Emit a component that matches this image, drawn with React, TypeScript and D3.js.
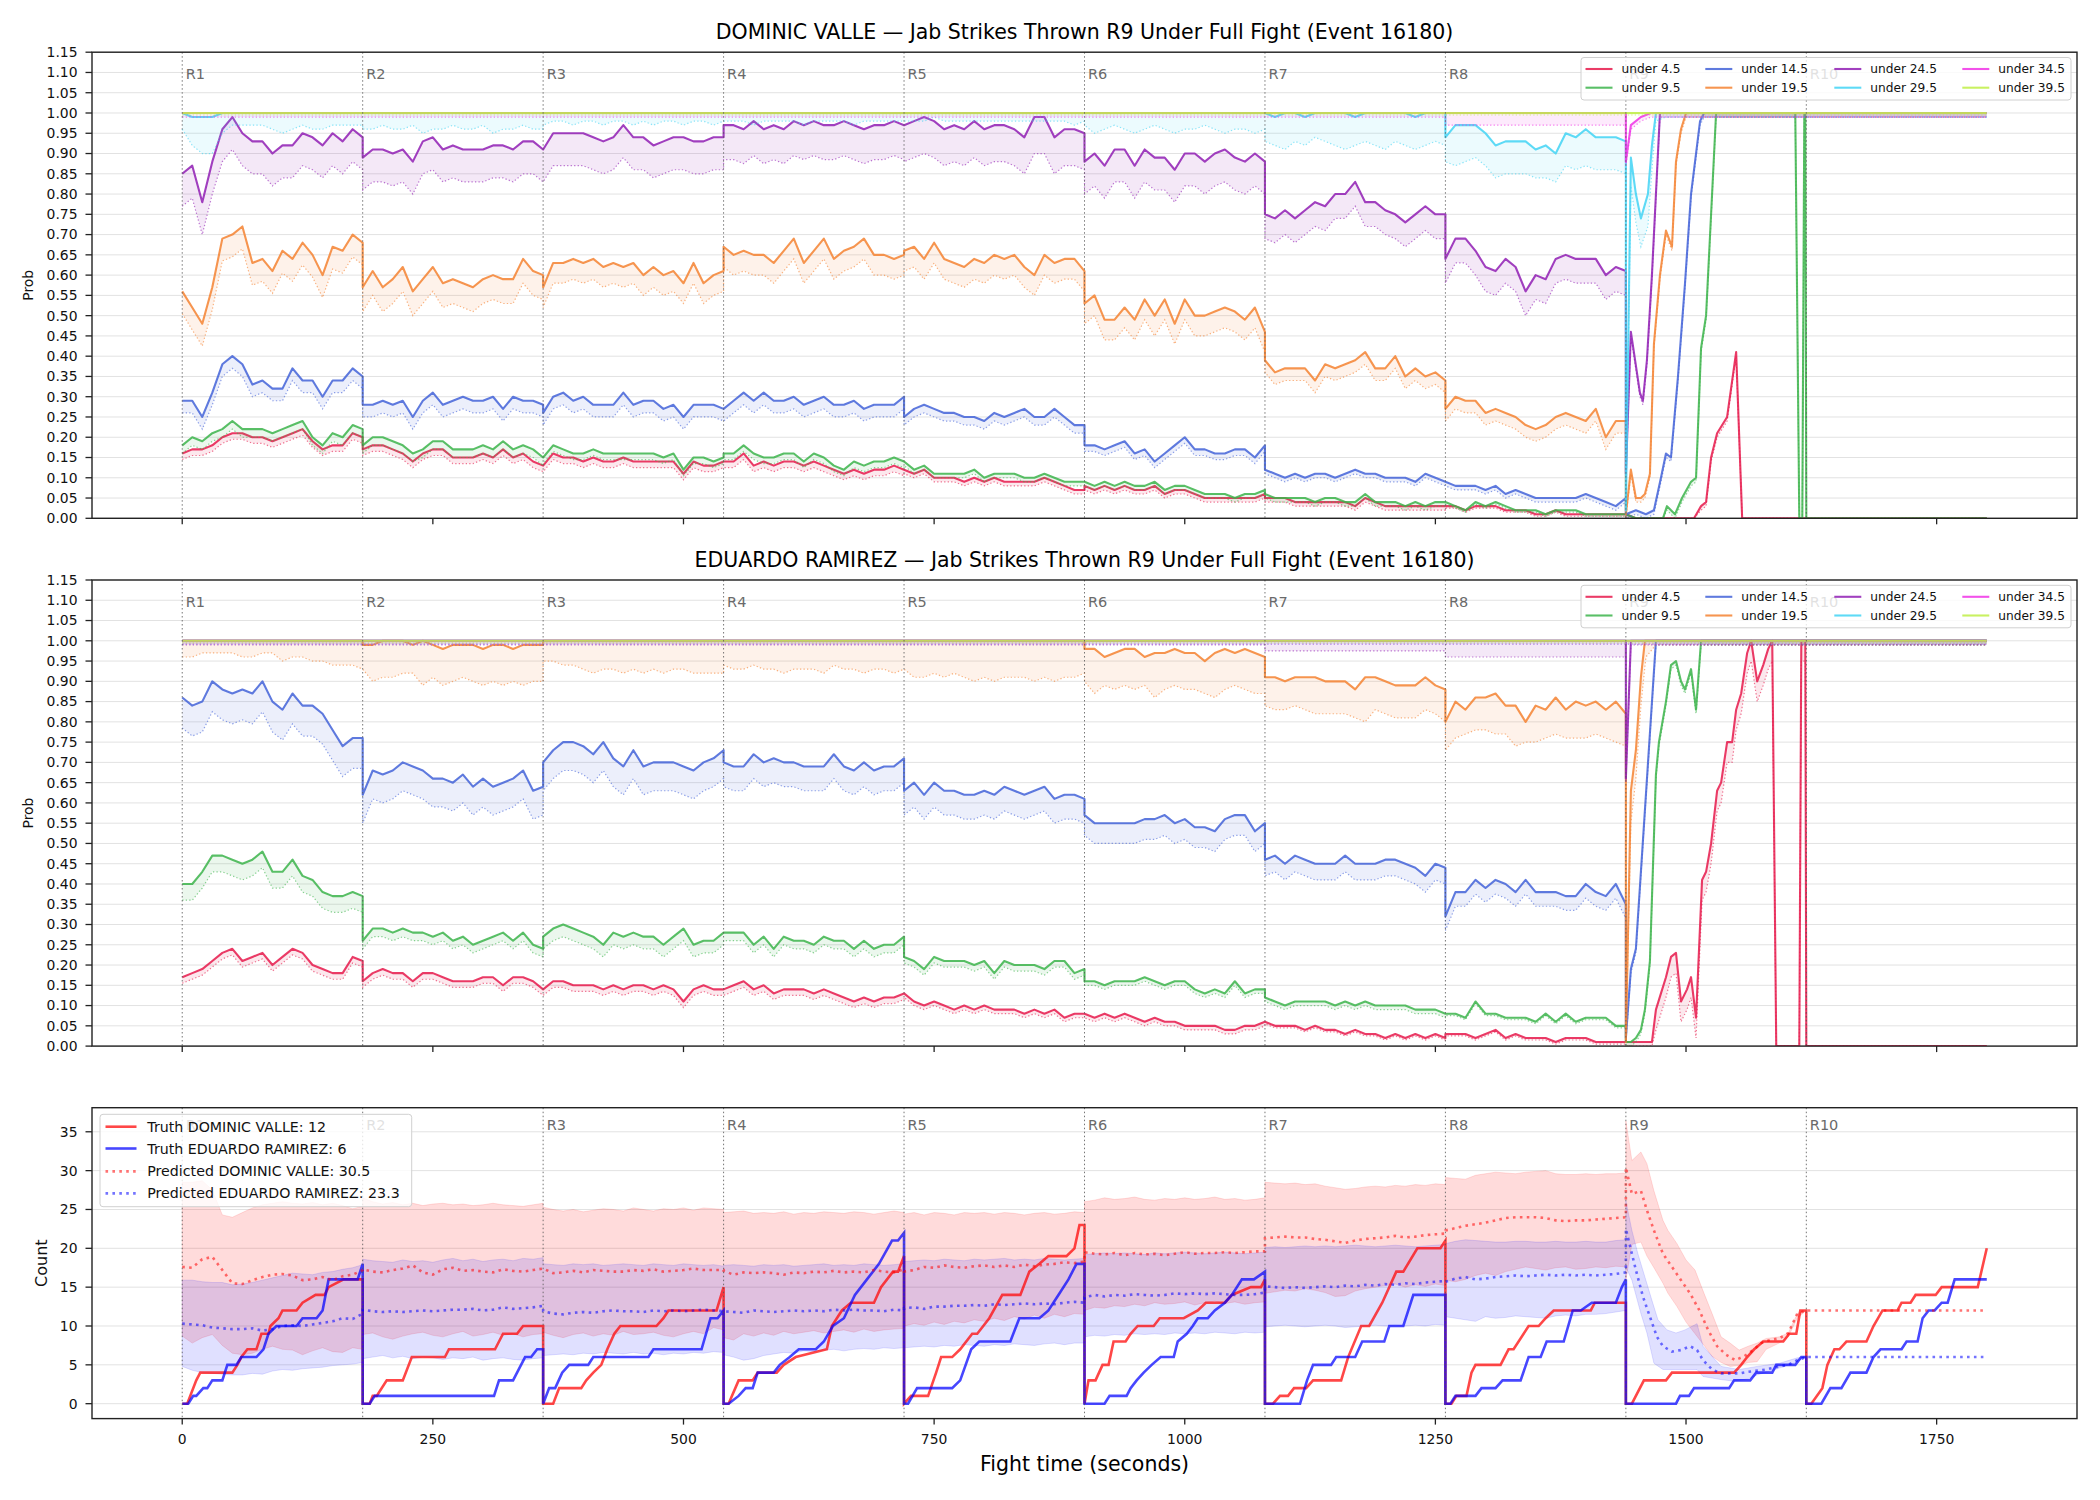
import React from 'react';
import * as d3 from 'd3';

type Pt = [number, number];

// ---------------- data ----------------
const ROUND_NAMES = ['R1', 'R2', 'R3', 'R4', 'R5', 'R6', 'R7', 'R8', 'R9', 'R10'];
const ROUND_STARTS = [0, 180, 360, 540, 720, 900, 1080, 1260, 1440, 1620];
const ROUND_LENGTH = 180;
const X_TICKS = [0, 250, 500, 750, 1000, 1250, 1500, 1750];
const PROB_TICKS = [0, 0.05, 0.1, 0.15, 0.2, 0.25, 0.3, 0.35, 0.4, 0.45, 0.5, 0.55, 0.6, 0.65, 0.7, 0.75, 0.8, 0.85, 0.9, 0.95, 1.0, 1.05, 1.1, 1.15];
const COUNT_TICKS = [0, 5, 10, 15, 20, 25, 30, 35];

const LINE_LABELS = ['under 4.5', 'under 9.5', 'under 14.5', 'under 19.5', 'under 24.5', 'under 29.5', 'under 34.5', 'under 39.5'];

// P(under) in %, one row per round R1..R8, samples evenly spread over the round
// gaps: distance of the dotted lower line per round (R1..R8, then R9+ tail)

// DOMINIC VALLE
const valleU4_5 = [
  [16, 17, 17, 18, 20, 21, 21, 20, 20, 19, 20, 21, 22, 19, 17, 18, 18, 21, 20],
  [17, 18, 18, 17, 16, 14, 16, 17, 17, 15, 15, 15, 16, 15, 17, 15, 16, 14, 13],
  [13, 16, 15, 15, 14, 15, 14, 14, 15, 14, 14, 14, 14, 14, 11, 14, 13, 13, 14],
  [14, 14, 16, 13, 14, 13, 14, 14, 13, 14, 13, 12, 11, 12, 11, 12, 12, 13, 12],
  [12, 11, 12, 10, 10, 10, 9, 10, 9, 10, 9, 9, 9, 9, 10, 9, 8, 7, 7],
  [8, 7, 8, 7, 8, 7, 7, 8, 6, 7, 7, 6, 5, 5, 5, 5, 5, 5, 6],
  [5, 5, 5, 4, 4, 4, 4, 4, 4, 3, 5, 4, 3, 3, 3, 3, 3, 3, 3],
  [3, 3, 2, 3, 3, 3, 2, 2, 2, 1, 1, 2, 1, 1, 1, 1, 1, 1, 1],
];
const valleU4_5Tail: Pt[] = [[1440, 1], [1450, 0], [1508, 0], [1515, 3], [1520, 4], [1525, 15], [1531, 21], [1541, 25], [1550, 41], [1556, 0], [1800, 0]];
const valleU4_5Gap = [1.5, 1.5, 1.5, 1.5, 1, 1, 1, 0.5, 1];

const valleU9_5 = [
  [18, 20, 19, 21, 22, 24, 22, 22, 22, 21, 22, 23, 24, 20, 18, 21, 20, 23, 22],
  [18, 20, 20, 19, 18, 16, 17, 19, 19, 17, 17, 17, 18, 17, 19, 17, 18, 17, 15],
  [15, 18, 17, 16, 16, 17, 16, 16, 16, 16, 16, 16, 15, 16, 12, 15, 15, 14, 15],
  [16, 16, 18, 16, 15, 15, 16, 16, 14, 16, 15, 13, 12, 14, 13, 14, 14, 15, 14],
  [14, 12, 13, 11, 11, 11, 11, 12, 10, 11, 11, 11, 10, 10, 11, 10, 9, 9, 9],
  [9, 8, 9, 8, 9, 8, 8, 9, 7, 8, 8, 7, 6, 6, 6, 5, 6, 6, 7],
  [6, 5, 5, 5, 5, 4, 5, 5, 4, 4, 6, 4, 4, 4, 3, 4, 3, 4, 4],
  [4, 3, 2, 4, 3, 4, 3, 2, 2, 2, 1, 2, 2, 2, 1, 1, 1, 1, 1],
];
const valleU9_5Tail: Pt[] = [[1440, 1], [1450, 0], [1477, 0], [1481, 3], [1489, 1], [1496, 5], [1505, 9], [1510, 10], [1515, 42], [1520, 50], [1530, 100], [1609, 100], [1613, 0], [1616, 0], [1618, 100], [1619, 100], [1620, 0], [1800, 0]];
const valleU9_5Gap = [2, 2, 1.5, 1.5, 1, 1, 1, 0.5, 1];

const valleU14_5 = [
  [29, 29, 25, 31, 38, 40, 38, 33, 34, 32, 32, 37, 34, 34, 30, 34, 34, 37, 35],
  [28, 28, 29, 28, 29, 25, 29, 31, 28, 29, 30, 29, 29, 30, 27, 30, 29, 29, 28],
  [26, 30, 31, 29, 30, 28, 28, 28, 31, 28, 29, 29, 27, 28, 25, 28, 28, 28, 27],
  [27, 29, 31, 29, 31, 29, 29, 30, 28, 29, 30, 28, 28, 29, 27, 28, 28, 28, 30],
  [25, 27, 28, 27, 26, 26, 25, 25, 24, 26, 25, 26, 27, 25, 25, 27, 25, 23, 23],
  [18, 18, 17, 18, 19, 16, 17, 14, 16, 18, 20, 17, 17, 16, 16, 17, 17, 15, 18],
  [12, 11, 10, 11, 10, 11, 11, 10, 11, 12, 11, 11, 10, 10, 10, 9, 11, 10, 9],
  [9, 8, 8, 8, 7, 8, 6, 7, 6, 5, 5, 5, 5, 5, 6, 5, 4, 3, 5],
];
const valleU14_5Tail: Pt[] = [[1440, 1], [1450, 2], [1460, 1], [1468, 2], [1475, 10], [1480, 16], [1485, 15], [1492, 35], [1499, 58], [1505, 80], [1514, 98], [1518, 100], [1800, 100]];
const valleU14_5Gap = [3, 3, 3, 3, 2, 1.5, 1, 1, 1];

const valleU19_5 = [
  [56, 52, 48, 57, 69, 70, 72, 63, 64, 61, 66, 64, 68, 65, 60, 67, 66, 70, 68],
  [57, 61, 57, 59, 62, 56, 59, 62, 58, 59, 58, 57, 59, 60, 59, 59, 64, 61, 60],
  [57, 63, 63, 64, 63, 64, 62, 63, 62, 63, 60, 62, 60, 61, 58, 63, 58, 60, 61],
  [67, 65, 66, 65, 65, 63, 66, 69, 63, 66, 69, 64, 66, 67, 69, 65, 65, 64, 65],
  [66, 67, 64, 68, 64, 63, 62, 64, 63, 65, 64, 65, 62, 60, 65, 63, 64, 64, 61],
  [53, 55, 49, 49, 52, 49, 54, 50, 54, 48, 54, 50, 50, 51, 52, 51, 49, 52, 46],
  [39, 36, 37, 37, 37, 34, 38, 37, 38, 39, 41, 37, 37, 40, 35, 37, 35, 36, 34],
  [27, 30, 29, 29, 26, 27, 26, 25, 23, 22, 23, 25, 26, 25, 24, 27, 20, 24, 24],
];
const valleU19_5Tail: Pt[] = [[1440, 1], [1445, 12], [1450, 5], [1455, 5], [1459, 6], [1464, 11], [1468, 43], [1474, 60], [1480, 71], [1486, 67], [1490, 88], [1495, 96], [1500, 100], [1800, 100]];
const valleU19_5Gap = [5.5, 6, 5, 5, 5, 5, 3, 3, 1];

const valleU24_5 = [
  [85, 87, 78, 88, 96, 99, 95, 93, 93, 90, 92, 92, 95, 94, 92, 95, 93, 96, 94],
  [89, 91, 91, 90, 91, 88, 93, 94, 91, 92, 91, 91, 91, 92, 92, 91, 93, 93, 91],
  [91, 95, 95, 95, 95, 94, 93, 94, 97, 94, 94, 92, 93, 94, 94, 93, 93, 94, 94],
  [97, 97, 96, 98, 96, 97, 96, 98, 97, 98, 97, 97, 98, 97, 96, 97, 97, 98, 97],
  [97, 98, 99, 98, 96, 97, 96, 98, 96, 97, 97, 96, 94, 99, 99, 94, 96, 96, 95],
  [88, 90, 87, 91, 91, 87, 91, 89, 89, 86, 90, 90, 88, 90, 91, 89, 88, 90, 88],
  [75, 74, 76, 74, 76, 78, 77, 80, 80, 83, 78, 78, 76, 75, 73, 75, 77, 75, 75],
  [64, 69, 69, 66, 62, 61, 64, 62, 56, 60, 59, 64, 65, 64, 64, 64, 60, 62, 61],
];
const valleU24_5Tail: Pt[] = [[1440, 11], [1445, 46], [1454, 31], [1457, 29], [1461, 39], [1466, 60], [1470, 80], [1474, 100], [1800, 100]];
const valleU24_5Gap = [8, 8, 8, 8.5, 9, 8, 6, 6, 1];

const valleU29_5 = [
  [100, 99, 99, 99, 100, 100, 100, 100, 100, 100, 100, 100, 100, 100, 100, 100, 100, 100, 100],
  [100, 100], [100, 100], [100, 100], [100, 100], [100, 100],
  [100, 99, 100, 100, 99, 100, 100, 100, 100, 99, 100, 100, 100, 100, 100, 99, 100, 100, 100],
  [94, 97, 97, 97, 95, 92, 93, 93, 93, 91, 92, 90, 95, 94, 96, 94, 94, 94, 93],
];
const valleU29_5Tail: Pt[] = [[1440, 2], [1445, 89], [1450, 80], [1455, 74], [1462, 80], [1466, 92], [1470, 100], [1800, 100]];
const valleU29_5Low = [
  [96, 92, 90, 90, 95, 97, 97, 97, 97, 96, 95, 96, 97, 96, 96, 97, 97, 97, 97],
  [96, 96, 97, 96, 96, 97, 95, 96, 96, 97, 96, 96, 97, 95, 96, 96, 97, 96, 96],
  [97, 98, 98, 97, 98, 98, 97, 98, 98, 97, 98, 97, 98, 98, 97, 98, 98, 97, 98],
  [98, 98, 98, 97, 98, 98, 98, 98, 97, 98, 98, 98, 98, 97, 98, 98, 98, 98, 98],
  [98, 98, 98, 99, 98, 98, 98, 98, 98, 98, 98, 98, 98, 98, 98, 98, 98, 97, 98],
  [97, 95, 96, 97, 96, 95, 96, 97, 96, 95, 96, 96, 97, 96, 95, 96, 96, 95, 96],
  [93, 92, 91, 93, 92, 94, 93, 92, 91, 92, 93, 92, 91, 93, 92, 91, 92, 93, 92],
  [88, 87, 88, 89, 87, 84, 85, 85, 85, 84, 84, 83, 87, 86, 87, 86, 86, 86, 85],
];
const valleU29_5LowTail: Pt[] = [[1440, 1], [1445, 82], [1450, 73], [1455, 67], [1462, 72], [1466, 86], [1470, 98], [1480, 99], [1800, 99]];

const valleU34_5 = [[100, 100], [100, 100], [100, 100], [100, 100], [100, 100], [100, 100], [100, 100], [100, 100]];
const valleU34_5Tail: Pt[] = [[1440, 88], [1445, 97], [1455, 99], [1465, 100], [1800, 100]];
const valleU34_5Gap = [1, 1, 1, 1, 1, 1, 1, 3, 1];

const valleU39_5 = [[100, 100], [100, 100], [100, 100], [100, 100], [100, 100], [100, 100], [100, 100], [100, 100]];
const valleU39_5Tail: Pt[] = [[1440, 100], [1800, 100]];
const valleU39_5Gap = [0.5, 0.5, 0.5, 0.5, 0.5, 0.5, 0.5, 0.5, 0.5];

// EDUARDO RAMIREZ
const ramirezU4_5 = [
  [17, 18, 19, 21, 23, 24, 21, 22, 23, 20, 22, 24, 23, 20, 19, 18, 18, 22, 21],
  [16, 18, 19, 18, 18, 16, 18, 18, 17, 16, 16, 16, 17, 17, 15, 17, 17, 16, 14],
  [14, 16, 16, 15, 15, 15, 14, 15, 14, 15, 15, 14, 15, 14, 11, 14, 15, 14, 14],
  [14, 15, 16, 14, 15, 13, 14, 14, 14, 13, 14, 13, 12, 11, 12, 11, 12, 12, 13],
  [13, 11, 10, 11, 10, 9, 10, 9, 10, 9, 9, 9, 8, 9, 8, 9, 7, 8, 8],
  [8, 7, 8, 7, 8, 7, 6, 7, 6, 6, 5, 5, 5, 5, 4, 4, 5, 5, 6],
  [6, 5, 5, 5, 4, 5, 4, 4, 3, 4, 3, 3, 2, 3, 2, 3, 2, 3, 2],
  [3, 3, 3, 2, 3, 4, 2, 3, 2, 2, 2, 1, 2, 2, 2, 1, 1, 1, 1],
];
const ramirezU4_5Tail: Pt[] = [[1440, 1], [1466, 1], [1470, 9], [1475, 13], [1480, 17], [1485, 22], [1490, 23], [1495, 11], [1501, 14], [1505, 17], [1510, 7], [1516, 41], [1520, 43], [1525, 50], [1531, 63], [1535, 65], [1541, 75], [1546, 75], [1550, 83], [1555, 87], [1561, 97], [1565, 100], [1571, 90], [1577, 94], [1582, 98], [1586, 100], [1590, 0], [1613, 0], [1615, 100], [1619, 100], [1620, 0], [1800, 0]];
const ramirezU4_5Gap = [1.5, 1.5, 1.5, 1.5, 1, 1, 0.5, 0.5, 5];

const ramirezU9_5 = [
  [40, 40, 43, 47, 47, 46, 45, 46, 48, 43, 43, 46, 42, 41, 38, 37, 37, 38, 37],
  [26, 29, 29, 28, 29, 28, 28, 27, 28, 26, 27, 25, 26, 27, 28, 26, 28, 25, 24],
  [27, 29, 30, 29, 28, 27, 25, 28, 27, 28, 27, 27, 25, 27, 29, 25, 26, 26, 28],
  [28, 28, 28, 25, 27, 24, 27, 26, 26, 25, 27, 26, 26, 24, 26, 24, 25, 25, 27],
  [22, 21, 19, 22, 21, 21, 21, 20, 21, 18, 21, 20, 20, 20, 19, 21, 21, 18, 19],
  [16, 16, 15, 16, 16, 16, 17, 16, 15, 16, 16, 14, 13, 14, 13, 16, 13, 14, 14],
  [12, 11, 10, 11, 11, 11, 11, 10, 11, 10, 11, 10, 10, 10, 10, 9, 9, 9, 8],
  [8, 8, 7, 11, 8, 8, 7, 7, 7, 6, 8, 6, 8, 6, 7, 7, 7, 5, 5],
];
const ramirezU9_5Tail: Pt[] = [[1440, 1], [1445, 1], [1450, 2], [1455, 4], [1459, 9], [1464, 21], [1470, 67], [1473, 75], [1480, 85], [1485, 94], [1490, 95], [1495, 90], [1499, 88], [1505, 93], [1510, 83], [1515, 100], [1800, 100]];
const ramirezU9_5Gap = [4, 2, 3, 2, 1.5, 1, 1, 0.5, 1];

const ramirezU14_5 = [
  [86, 84, 85, 90, 88, 87, 88, 87, 90, 85, 83, 87, 84, 84, 82, 78, 74, 76, 76],
  [62, 68, 67, 68, 70, 69, 68, 66, 66, 65, 67, 64, 66, 64, 65, 66, 68, 63, 64],
  [70, 73, 75, 75, 74, 72, 75, 71, 69, 73, 69, 70, 70, 70, 69, 68, 70, 71, 73],
  [70, 69, 69, 72, 70, 71, 70, 70, 69, 69, 69, 72, 69, 68, 70, 68, 69, 69, 71],
  [63, 65, 62, 65, 63, 63, 62, 62, 63, 62, 64, 63, 62, 63, 64, 61, 62, 62, 61],
  [57, 55, 55, 55, 55, 55, 56, 56, 57, 55, 56, 54, 54, 53, 56, 57, 57, 53, 55],
  [46, 47, 45, 47, 46, 45, 45, 45, 47, 45, 45, 45, 46, 46, 45, 44, 42, 45, 44],
  [32, 38, 38, 41, 39, 41, 40, 38, 41, 38, 38, 38, 37, 37, 40, 38, 37, 40, 35],
];
const ramirezU14_5Tail: Pt[] = [[1440, 2], [1445, 19], [1450, 24], [1470, 100], [1800, 100]];
const ramirezU14_5Gap = [7.5, 7, 7, 6, 6, 5, 4, 3.5, 1];

const ramirezU19_5 = [
  [100, 100],
  [99, 99, 100, 100, 100, 99, 100, 99, 98, 99, 99, 99, 98, 99, 99, 98, 99, 99, 99],
  [100, 100], [100, 100], [100, 100],
  [98, 98, 96, 97, 98, 98, 96, 97, 97, 98, 97, 97, 95, 97, 98, 97, 98, 97, 96],
  [91, 91, 90, 91, 91, 91, 90, 90, 90, 88, 91, 91, 90, 89, 89, 89, 91, 89, 88],
  [80, 85, 83, 86, 86, 87, 84, 84, 80, 84, 83, 86, 83, 85, 84, 85, 83, 85, 82],
];
const ramirezU19_5Tail: Pt[] = [[1440, 1], [1445, 63], [1450, 73], [1455, 91], [1459, 100], [1800, 100]];
const ramirezU19_5Low = [
  [96, 96, 97, 97, 97, 97, 96, 96, 97, 97, 95, 96, 96, 95, 95, 94, 94, 94, 93],
  [93, 90, 91, 91, 92, 92, 89, 91, 89, 90, 91, 90, 89, 90, 89, 90, 89, 90, 90],
  [95, 95, 94, 94, 93, 92, 93, 93, 92, 93, 92, 93, 92, 93, 93, 92, 92, 92, 92],
  [94, 93, 93, 94, 93, 93, 92, 93, 93, 93, 92, 94, 93, 93, 92, 93, 93, 92, 93],
  [93, 91, 91, 92, 91, 92, 91, 90, 91, 90, 91, 91, 91, 90, 91, 90, 91, 91, 92],
  [90, 87, 89, 88, 89, 88, 89, 86, 88, 89, 88, 88, 87, 86, 88, 89, 88, 87, 87],
  [84, 83, 83, 84, 83, 82, 82, 82, 82, 81, 80, 83, 82, 81, 81, 81, 83, 82, 80],
  [73, 76, 77, 78, 78, 77, 77, 74, 75, 75, 76, 77, 76, 76, 76, 77, 76, 75, 74],
];
const ramirezU19_5LowTail: Pt[] = [[1440, 1], [1445, 55], [1450, 66], [1455, 84], [1460, 96], [1470, 99], [1800, 99]];

const ramirezU24_5 = [[100, 100], [100, 100], [100, 100], [100, 100], [100, 100], [100, 100], [100, 100], [100, 100]];
const ramirezU24_5Tail: Pt[] = [[1440, 66], [1445, 100], [1800, 100]];
const ramirezU24_5Gap = [1, 1, 1, 1, 1, 1, 2.5, 4, 1];

const ramirezU29_5 = [[100, 100], [100, 100], [100, 100], [100, 100], [100, 100], [100, 100], [100, 100], [100, 100]];
const ramirezU29_5Tail: Pt[] = [[1440, 100], [1800, 100]];
const ramirezU29_5Gap = [0.8, 0.8, 0.8, 0.8, 0.8, 0.8, 0.8, 0.8, 0.8];

const ramirezU34_5 = [[100, 100], [100, 100], [100, 100], [100, 100], [100, 100], [100, 100], [100, 100], [100, 100]];
const ramirezU34_5Tail: Pt[] = [[1440, 100], [1800, 100]];
const ramirezU34_5Gap = [0.8, 0.8, 0.8, 0.8, 0.8, 0.8, 0.8, 0.8, 0.8];

const ramirezU39_5 = [[100, 100], [100, 100], [100, 100], [100, 100], [100, 100], [100, 100], [100, 100], [100, 100]];
const ramirezU39_5Tail: Pt[] = [[1440, 100], [1800, 100]];
const ramirezU39_5Gap = [0.5, 0.5, 0.5, 0.5, 0.5, 0.5, 0.5, 0.5, 0.5];

// Count panel: truth (fight seconds, count within round) per round
const valleTruth: Pt[][] = [
  [[0, 0], [5, 0], [14, 3], [18, 4], [50, 4], [55, 5], [59, 6], [65, 7], [74, 7], [79, 9], [86, 9], [88, 10], [96, 11], [100, 12], [114, 12], [120, 13], [133, 14], [142, 14], [146, 15], [161, 16], [180, 16]],
  [[180, 0], [187, 0], [190, 1], [194, 1], [204, 3], [220, 3], [229, 6], [262, 6], [266, 7], [312, 7], [320, 9], [334, 9], [340, 10], [360, 10]],
  [[360, 0], [370, 0], [376, 2], [398, 2], [403, 3], [410, 4], [418, 5], [424, 7], [431, 9], [437, 10], [473, 10], [480, 11], [485, 12], [533, 12], [540, 15]],
  [[540, 0], [545, 0], [555, 3], [569, 3], [574, 4], [593, 4], [600, 5], [612, 6], [643, 7], [648, 10], [658, 12], [667, 13], [690, 13], [697, 15], [709, 17], [714, 17], [720, 19]],
  [[720, 0], [727, 1], [744, 1], [752, 4], [757, 6], [768, 6], [776, 7], [788, 9], [793, 9], [805, 11], [818, 14], [836, 14], [845, 17], [855, 18], [864, 19], [882, 19], [890, 20], [895, 23], [900, 23]],
  [[900, 0], [904, 3], [911, 3], [918, 5], [924, 5], [929, 8], [941, 8], [946, 9], [953, 10], [969, 10], [975, 11], [999, 11], [1013, 12], [1021, 13], [1040, 13], [1047, 14], [1066, 15], [1076, 15], [1080, 16]],
  [[1080, 0], [1088, 0], [1095, 1], [1103, 1], [1109, 2], [1121, 2], [1128, 3], [1156, 3], [1163, 6], [1176, 10], [1184, 10], [1197, 13], [1211, 17], [1218, 17], [1232, 20], [1255, 20], [1260, 21]],
  [[1260, 0], [1266, 0], [1271, 1], [1281, 1], [1286, 4], [1290, 5], [1315, 5], [1323, 7], [1328, 7], [1343, 10], [1353, 10], [1360, 11], [1368, 12], [1405, 12], [1409, 13], [1440, 13]],
  [[1440, 0], [1446, 0], [1458, 3], [1480, 3], [1486, 4], [1548, 4], [1555, 5], [1561, 6], [1568, 7], [1577, 8], [1597, 8], [1603, 9], [1610, 9], [1614, 12], [1620, 12]],
  [[1620, 0], [1625, 0], [1636, 2], [1641, 5], [1648, 7], [1653, 7], [1660, 8], [1680, 8], [1687, 10], [1696, 12], [1711, 12], [1715, 13], [1724, 13], [1729, 14], [1749, 14], [1755, 15], [1791, 15], [1800, 20]],
];
const ramirezTruth: Pt[][] = [
  [[0, 0], [6, 0], [11, 1], [14, 1], [21, 2], [25, 2], [30, 3], [40, 3], [45, 5], [54, 5], [59, 6], [74, 6], [81, 7], [86, 9], [94, 10], [114, 10], [120, 11], [134, 11], [140, 12], [146, 16], [175, 16], [180, 18]],
  [[180, 0], [187, 0], [192, 1], [311, 1], [316, 3], [330, 3], [342, 6], [348, 6], [354, 7], [360, 7]],
  [[360, 0], [366, 2], [372, 2], [379, 4], [386, 5], [405, 5], [410, 6], [465, 6], [470, 7], [518, 7], [527, 11], [534, 11], [540, 12]],
  [[540, 0], [545, 0], [555, 1], [562, 2], [569, 2], [574, 4], [590, 4], [596, 5], [606, 6], [615, 7], [632, 7], [640, 8], [649, 10], [660, 11], [671, 14], [683, 16], [695, 18], [708, 21], [714, 21], [720, 22]],
  [[720, 0], [724, 0], [733, 2], [768, 2], [776, 3], [787, 7], [795, 8], [826, 8], [835, 11], [855, 11], [864, 12], [874, 14], [884, 16], [892, 18], [900, 18]],
  [[900, 0], [920, 0], [925, 1], [942, 1], [946, 2], [952, 3], [959, 4], [967, 5], [976, 6], [989, 6], [993, 8], [1002, 9], [1008, 10], [1013, 11], [1023, 11], [1030, 12], [1040, 13], [1047, 14], [1057, 16], [1069, 16], [1080, 17]],
  [[1080, 0], [1115, 0], [1122, 3], [1128, 5], [1146, 5], [1151, 6], [1170, 6], [1177, 8], [1199, 8], [1204, 10], [1218, 10], [1228, 14], [1238, 14], [1260, 14]],
  [[1260, 0], [1265, 0], [1270, 1], [1290, 1], [1296, 2], [1310, 2], [1317, 3], [1335, 3], [1343, 6], [1355, 6], [1361, 8], [1378, 8], [1387, 12], [1395, 12], [1406, 13], [1430, 13], [1436, 15], [1440, 16]],
  [[1440, 0], [1490, 0], [1494, 1], [1503, 1], [1508, 2], [1543, 2], [1548, 3], [1564, 3], [1570, 4], [1586, 4], [1590, 5], [1609, 5], [1615, 6], [1620, 6]],
  [[1620, 0], [1635, 0], [1644, 2], [1655, 2], [1664, 4], [1680, 4], [1687, 6], [1694, 7], [1715, 7], [1720, 8], [1731, 8], [1736, 11], [1742, 12], [1748, 12], [1755, 13], [1761, 13], [1768, 16], [1800, 16]],
];

// predicted full-fight count and its band, rounds R1..R8 then R9+ points
const vallePred = [
  [17.6, 17.5, 18.6, 18.9, 17.2, 15.5, 15.4, 15.9, 16.3, 16.6, 16.7, 16.5, 15.9, 16.0, 16.3, 15.9, 16.4, 16.6, 17.2],
  [17.3, 17.0, 16.9, 17.2, 17.4, 17.8, 16.9, 16.6, 17.3, 17.5, 17.1, 17.2, 17.0, 16.9, 17.3, 17.1, 17.0, 17.2, 17.4],
  [17.4, 16.8, 16.9, 17.1, 16.9, 17.2, 17.1, 17.0, 17.0, 17.2, 17.1, 17.3, 17.0, 17.1, 17.2, 17.4, 17.2, 17.2, 17.2],
  [17.1, 16.6, 16.9, 16.8, 16.9, 16.8, 16.6, 16.9, 16.8, 17.0, 16.9, 17.1, 16.9, 17.0, 16.9, 17.2, 17.0, 16.9, 17.3],
  [17.0, 17.2, 17.6, 17.5, 17.8, 17.6, 17.5, 17.7, 17.8, 17.6, 17.8, 17.6, 17.9, 17.7, 17.9, 18.0, 18.2, 18.1, 18.3],
  [19.5, 19.3, 19.2, 19.4, 19.1, 19.4, 19.2, 19.3, 19.1, 19.3, 19.5, 19.3, 19.4, 19.4, 19.5, 19.4, 19.5, 19.6, 19.6],
  [21.3, 21.4, 21.5, 21.4, 21.4, 21.2, 21.1, 20.9, 20.7, 21.0, 21.2, 21.3, 21.4, 21.6, 21.4, 21.5, 21.7, 21.8, 21.9],
  [22.3, 22.6, 22.9, 23.1, 23.3, 23.6, 23.9, 24.0, 24.0, 24.0, 23.9, 23.6, 23.5, 23.6, 23.6, 23.7, 23.8, 23.9, 24.0],
];
const vallePredTail: Pt[] = [[1440, 30.4], [1446, 27], [1455, 27.4], [1461, 24.9], [1468, 22.3], [1477, 19.3], [1486, 17.6], [1495, 15.9], [1504, 14.2], [1513, 12.1], [1522, 9.5], [1531, 7.4], [1540, 6.3], [1549, 5.6], [1558, 6.1], [1567, 6.9], [1575, 7.8], [1584, 8.2], [1593, 8.4], [1602, 9.1], [1611, 11.6], [1620, 12], [1800, 12]];
const valleHigh = [
  [28.5, 28.5, 28.7, 27.5, 24.3, 24.0, 24.6, 25.2, 25.6, 25.8, 26.0, 25.8, 25.7, 25.9, 25.6, 25.8, 25.5, 25.1, 25.4],
  [26.5, 26.0, 25.7, 25.9, 25.6, 25.8, 25.5, 25.7, 25.8, 25.6, 25.7, 25.5, 25.6, 25.8, 25.6, 25.5, 25.4, 25.6, 25.8],
  [25.3, 25.0, 24.8, 25.0, 24.7, 24.9, 25.1, 25.0, 24.8, 25.2, 25.0, 24.8, 25.1, 25.0, 25.2, 24.9, 25.2, 25.1, 25.0],
  [24.6, 24.7, 24.8, 24.5, 24.6, 24.5, 24.7, 24.4, 24.6, 24.5, 24.7, 24.6, 24.5, 24.7, 24.6, 24.4, 24.6, 24.8, 24.6],
  [24.4, 24.6, 24.3, 24.6, 24.5, 24.3, 24.6, 24.5, 24.6, 24.4, 24.6, 24.5, 24.3, 24.5, 24.6, 24.4, 24.5, 24.7, 24.6],
  [26.0, 26.2, 26.5, 26.3, 26.4, 26.6, 26.3, 26.2, 26.4, 26.3, 26.5, 26.3, 26.4, 26.6, 26.3, 26.4, 26.2, 26.3, 26.5],
  [28.5, 28.4, 28.3, 28.4, 28.2, 28.3, 28.0, 27.8, 27.6, 27.7, 27.9, 28.0, 27.9, 28.1, 28.0, 28.2, 28.1, 28.3, 28.2],
  [29.1, 29.0, 28.9, 29.4, 29.6, 29.8, 29.7, 29.6, 29.8, 29.9, 30.0, 29.6, 29.5, 29.5, 29.6, 29.5, 29.6, 29.6, 29.7],
];
const valleHighTail: Pt[] = [[1440, 36.4], [1446, 31.3], [1455, 32.4], [1461, 30.9], [1468, 27.4], [1477, 23.6], [1482, 22.3], [1491, 20.6], [1500, 18.5], [1509, 17.2], [1518, 14.2], [1526, 11.6], [1535, 8.6], [1544, 7.8], [1553, 6.9], [1562, 7.4], [1571, 7.8], [1580, 8.4], [1593, 8.6], [1602, 9.1], [1611, 11.6], [1620, 12]];
const valleLowBand = [
  [8.7, 7.8, 8.5, 8.9, 7.5, 6.5, 6.3, 6.5, 7.0, 7.4, 7.0, 6.9, 6.3, 6.8, 7.2, 6.7, 6.6, 7.2, 7.0],
  [8.9, 9.1, 8.6, 8.3, 8.7, 9.0, 9.2, 8.8, 8.6, 9.0, 9.3, 8.7, 8.9, 9.2, 8.8, 9.0, 8.6, 8.9, 9.0],
  [9.2, 8.8, 8.5, 8.9, 9.1, 8.7, 9.0, 8.8, 9.3, 8.9, 9.0, 9.2, 8.8, 8.6, 9.0, 9.3, 9.0, 9.8, 9.5],
  [8.5, 8.2, 9.0, 8.7, 9.1, 8.8, 9.3, 9.0, 9.2, 9.4, 9.1, 9.3, 9.5, 9.2, 9.6, 9.3, 9.5, 9.6, 9.7],
  [10.0, 10.3, 10.1, 10.5, 10.2, 10.6, 10.4, 10.8, 10.6, 11.0, 10.7, 11.2, 10.9, 11.4, 11.0, 11.5, 11.2, 11.6, 11.5],
  [12.0, 12.4, 12.3, 12.6, 12.5, 12.8, 12.6, 13.0, 12.8, 12.9, 13.1, 12.7, 13.0, 13.2, 12.9, 13.1, 12.8, 13.0, 13.1],
  [14.2, 14.4, 14.6, 14.5, 14.8, 14.6, 14.3, 13.8, 13.9, 14.5, 14.8, 15.0, 15.2, 15.4, 15.0, 15.3, 15.1, 15.4, 15.2],
  [15.9, 15.7, 16.0, 16.5, 16.8, 16.5, 17.0, 17.3, 17.6, 17.4, 17.2, 17.5, 17.6, 17.3, 17.4, 17.6, 17.5, 17.7, 17.6],
];
const valleLowBandTail: Pt[] = [[1440, 15.9], [1446, 20.5], [1455, 20.8], [1461, 19.0], [1468, 17.5], [1477, 15.5], [1482, 14.2], [1491, 12.5], [1500, 10.5], [1509, 9.0], [1518, 7.5], [1526, 6.1], [1535, 5.3], [1544, 4.8], [1553, 4.9], [1562, 5.3], [1571, 5.4], [1580, 7.0], [1593, 7.8], [1602, 8.6], [1611, 11.0], [1620, 12]];

const ramirezPred = [
  [10.3, 10.2, 10.1, 9.8, 9.7, 9.6, 9.6, 9.7, 9.4, 9.6, 10.0, 10.1, 10.0, 10.2, 10.4, 10.6, 11.0, 10.9, 11.6],
  [12.1, 11.9, 11.8, 11.9, 11.8, 11.9, 12.0, 11.9, 12.0, 12.1, 12.1, 12.2, 12.0, 12.1, 12.4, 12.2, 12.3, 12.4, 12.6],
  [11.9, 11.6, 11.5, 11.7, 11.8, 11.7, 11.9, 12.0, 11.9, 11.9, 11.8, 12.0, 11.9, 12.0, 11.9, 12.0, 12.1, 12.0, 11.9],
  [11.9, 11.8, 11.7, 12.0, 11.9, 11.8, 11.9, 12.0, 11.9, 12.0, 11.9, 12.1, 12.0, 12.1, 12.0, 12.0, 11.9, 12.1, 12.0],
  [12.3, 12.4, 12.2, 12.5, 12.5, 12.6, 12.6, 12.7, 12.6, 12.8, 12.7, 12.8, 12.9, 12.8, 12.9, 12.8, 13.0, 13.1, 13.0],
  [13.7, 14.0, 13.8, 14.0, 13.9, 14.1, 14.0, 13.9, 14.0, 14.2, 14.1, 14.2, 14.1, 14.2, 14.1, 14.0, 14.0, 14.1, 14.3],
  [15.1, 15.0, 14.9, 15.0, 14.9, 15.0, 15.1, 15.0, 15.2, 15.1, 15.3, 15.2, 15.4, 15.3, 15.5, 15.4, 15.6, 15.7, 15.8],
  [15.7, 16.1, 16.3, 16.0, 16.1, 16.3, 16.4, 16.5, 16.4, 16.5, 16.6, 16.5, 16.6, 16.5, 16.6, 16.5, 16.6, 16.7, 16.9],
];
const ramirezPredTail: Pt[] = [[1440, 22.5], [1446, 19.3], [1450, 17.2], [1457, 13.8], [1464, 11.2], [1471, 8.6], [1477, 7.4], [1486, 6.7], [1495, 6.9], [1504, 7.4], [1511, 6.9], [1517, 5.6], [1526, 4.4], [1535, 3.9], [1553, 3.9], [1562, 4.1], [1580, 4.4], [1593, 4.8], [1602, 5.0], [1611, 5.6], [1620, 6], [1800, 6]];
const ramirezHigh = [
  [15.9, 15.9, 15.7, 15.6, 15.6, 15.3, 15.4, 15.6, 15.9, 16.2, 16.5, 16.8, 16.7, 16.6, 16.9, 17.0, 17.3, 17.5, 17.9],
  [18.6, 18.4, 18.3, 18.2, 18.5, 18.3, 18.4, 18.2, 18.5, 18.7, 18.4, 18.6, 18.3, 18.5, 18.6, 18.4, 18.7, 18.6, 18.8],
  [18.0, 17.9, 17.8, 18.0, 17.9, 18.0, 17.8, 17.9, 18.0, 17.9, 17.8, 18.0, 17.9, 17.8, 18.0, 17.9, 17.8, 17.9, 17.7],
  [17.8, 17.9, 17.8, 17.7, 17.9, 17.8, 17.9, 17.7, 17.8, 17.9, 18.0, 17.8, 17.9, 17.8, 18.0, 17.9, 17.8, 17.9, 18.0],
  [18.3, 18.4, 18.5, 18.4, 18.6, 18.5, 18.4, 18.6, 18.5, 18.6, 18.7, 18.5, 18.6, 18.5, 18.7, 18.6, 18.5, 18.6, 18.7],
  [19.2, 19.3, 19.4, 19.3, 19.4, 19.3, 19.2, 19.4, 19.3, 19.4, 19.5, 19.4, 19.3, 19.4, 19.5, 19.4, 19.3, 19.4, 19.5],
  [20.1, 20.2, 20.1, 20.2, 20.3, 20.2, 20.3, 20.2, 20.3, 20.4, 20.3, 20.2, 20.3, 20.4, 20.3, 20.2, 20.3, 20.4, 20.5],
  [20.6, 20.9, 21.1, 21.0, 20.9, 20.8, 20.8, 20.9, 20.9, 20.8, 20.8, 20.9, 20.8, 20.8, 20.9, 20.8, 20.8, 21.0, 21.1],
];
const ramirezHighTail: Pt[] = [[1440, 26.1], [1446, 22.3], [1452, 19.3], [1459, 16.3], [1466, 13.3], [1472, 10.8], [1481, 9.5], [1490, 9.1], [1499, 9.5], [1511, 10.3], [1517, 7.4], [1526, 6.1], [1535, 4.8], [1553, 4.4], [1571, 4.8], [1593, 5.2], [1611, 5.9], [1620, 6]];
const ramirezLowBand = [
  [4.8, 4.3, 4.0, 3.9, 3.8, 3.7, 3.7, 3.9, 3.8, 4.2, 4.4, 4.3, 4.5, 4.6, 4.7, 4.9, 5.0, 5.1, 5.3],
  [5.8, 6.0, 6.2, 5.9, 6.1, 5.8, 6.0, 5.9, 5.7, 5.9, 5.8, 6.0, 5.6, 5.8, 5.9, 5.7, 5.6, 5.8, 5.9],
  [6.2, 6.3, 6.4, 6.3, 6.5, 6.4, 6.6, 6.5, 6.4, 6.6, 6.4, 6.5, 6.3, 6.5, 6.4, 6.6, 6.5, 6.7, 6.6],
  [6.3, 6.0, 5.6, 5.8, 6.2, 6.4, 6.6, 6.5, 6.8, 6.7, 6.9, 7.0, 6.8, 7.0, 7.1, 7.0, 7.2, 7.1, 7.2],
  [7.2, 7.3, 7.4, 7.3, 7.5, 7.4, 7.6, 7.5, 7.4, 7.6, 7.5, 7.7, 7.6, 7.5, 7.7, 7.8, 7.6, 7.8, 7.8],
  [8.6, 8.8, 8.7, 8.9, 8.8, 9.0, 8.9, 9.0, 8.9, 9.1, 9.0, 9.1, 9.0, 9.2, 9.1, 9.0, 9.2, 9.1, 9.2],
  [9.9, 10.0, 10.1, 10.0, 9.9, 10.0, 10.1, 10.0, 9.8, 9.9, 10.0, 10.1, 10.0, 10.1, 10.0, 10.1, 10.0, 10.2, 10.1],
  [11.2, 11.0, 10.8, 10.6, 11.2, 11.0, 11.1, 11.3, 11.2, 11.1, 11.0, 11.3, 11.4, 11.3, 11.5, 11.5, 11.6, 11.8, 12.0],
];
const ramirezLowBandTail: Pt[] = [[1440, 17.6], [1446, 15.9], [1455, 11.6], [1461, 9.1], [1468, 5.2], [1477, 4.4], [1490, 4.4], [1504, 4.4], [1511, 4.4], [1517, 3.5], [1526, 3.3], [1535, 3.1], [1548, 2.9], [1562, 3.2], [1571, 3.7], [1589, 4.4], [1607, 5.2], [1620, 6]];

const COUNT_LEGEND = ['Truth DOMINIC VALLE: 12', 'Truth EDUARDO RAMIREZ: 6', 'Predicted DOMINIC VALLE: 30.5', 'Predicted EDUARDO RAMIREZ: 23.3'];

// ---------------- layout / style ----------------
const WIDTH = 2100;
const HEIGHT = 1500;
const LEFT = 92;
const RIGHT = 2077;
const PROB_H = 466.1;
const COUNT_TOP = 1107.7;
const COUNT_BOTTOM = 1418.6;
const FONT = "'DejaVu Sans', sans-serif";
const LINE_COLORS = ['#e6194b', '#3cb44b', '#4363d8', '#f58231', '#911eb4', '#42d4f4', '#f032e6', '#bfef45'];
const LEGEND_COLS = [1585.5, 1705.3, 1834.3, 1962.3];

const x = d3.scaleLinear().domain([-90, 1890]).range([LEFT, RIGHT]);

// spread round samples over their round, optional dotted-line offset
const expand = (rounds: number[][], tail: Pt[], scale: number, gaps?: number[]): Pt[] => {
  const pts: Pt[] = [];
  rounds.forEach((vals, r) => {
    const step = ROUND_LENGTH / (vals.length - 1);
    const g = gaps ? gaps[r] : 0;
    vals.forEach((v, i) => pts.push([ROUND_STARTS[r] + i * step, Math.max(0, v - g) * scale]));
  });
  const tg = gaps ? gaps[rounds.length] : 0;
  tail.forEach(([t, v]) => pts.push([t, Math.max(0, v - tg) * scale]));
  return pts;
};

interface ProbSeries { solid: Pt[]; lower: Pt[] }

const probSeries = (rounds: number[][], tail: Pt[], gaps: number[] | null, low?: number[][], lowTail?: Pt[]): ProbSeries => ({
  solid: expand(rounds, tail, 0.01),
  lower: low && lowTail ? expand(low, lowTail, 0.01) : expand(rounds, tail, 0.01, gaps || undefined),
});

const valleSeries: ProbSeries[] = [
  probSeries(valleU4_5, valleU4_5Tail, valleU4_5Gap),
  probSeries(valleU9_5, valleU9_5Tail, valleU9_5Gap),
  probSeries(valleU14_5, valleU14_5Tail, valleU14_5Gap),
  probSeries(valleU19_5, valleU19_5Tail, valleU19_5Gap),
  probSeries(valleU24_5, valleU24_5Tail, valleU24_5Gap),
  probSeries(valleU29_5, valleU29_5Tail, null, valleU29_5Low, valleU29_5LowTail),
  probSeries(valleU34_5, valleU34_5Tail, valleU34_5Gap),
  probSeries(valleU39_5, valleU39_5Tail, valleU39_5Gap),
];

const ramirezSeries: ProbSeries[] = [
  probSeries(ramirezU4_5, ramirezU4_5Tail, ramirezU4_5Gap),
  probSeries(ramirezU9_5, ramirezU9_5Tail, ramirezU9_5Gap),
  probSeries(ramirezU14_5, ramirezU14_5Tail, ramirezU14_5Gap),
  probSeries(ramirezU19_5, ramirezU19_5Tail, null, ramirezU19_5Low, ramirezU19_5LowTail),
  probSeries(ramirezU24_5, ramirezU24_5Tail, ramirezU24_5Gap),
  probSeries(ramirezU29_5, ramirezU29_5Tail, ramirezU29_5Gap),
  probSeries(ramirezU34_5, ramirezU34_5Tail, ramirezU34_5Gap),
  probSeries(ramirezU39_5, ramirezU39_5Tail, ramirezU39_5Gap),
];

const Frame = ({ top, bottom }: { top: number; bottom: number }) => (
  <g>
    <rect x={LEFT} y={top} width={RIGHT - LEFT} height={bottom - top} fill="none" stroke="#222" strokeWidth={1.4} />
    {X_TICKS.map((t) => (
      <line key={t} x1={x(t)} x2={x(t)} y1={bottom} y2={bottom + 6} stroke="#222" strokeWidth={1.3} />
    ))}
  </g>
);

const RoundMarks = ({ top, bottom }: { top: number; bottom: number }) => {
  const h = bottom - top;
  return (
    <g>
      {ROUND_STARTS.map((s) => (
        <line key={s} x1={x(s)} x2={x(s)} y1={top} y2={bottom} stroke="#555" strokeWidth={1} strokeDasharray="1.5 2.5" opacity={0.8} />
      ))}
      {ROUND_STARTS.map((s, i) => (
        <text key={ROUND_NAMES[i]} x={x(s) + 3.5} y={top + 0.03 * h + 12.8} fontSize={14.5} fill="#6a6a6a">{ROUND_NAMES[i]}</text>
      ))}
    </g>
  );
};

const ProbPanel = ({ top, title, series }: { top: number; title: string; series: ProbSeries[] }) => {
  const bottom = top + PROB_H;
  const y = d3.scaleLinear().domain([0, 1.15]).range([bottom, top]);
  const line = d3.line<Pt>().x((d) => x(d[0])).y((d) => y(d[1]));
  const clipId = `clip-prob-${Math.round(top)}`;
  const fmt = d3.format('.2f');
  return (
    <g>
      <defs>
        <clipPath id={clipId}><rect x={LEFT} y={top} width={RIGHT - LEFT} height={PROB_H} /></clipPath>
      </defs>
      {PROB_TICKS.map((t) => (
        <line key={t} x1={LEFT} x2={RIGHT} y1={y(t)} y2={y(t)} stroke="#e2e2e2" strokeWidth={1} />
      ))}
      <g clipPath={`url(#${clipId})`}>
        {series.map((s, i) => (
          <g key={LINE_LABELS[i]}>
            <path d={`${line([...s.solid, ...s.lower.slice().reverse()])}Z`} fill={LINE_COLORS[i]} fillOpacity={0.1} stroke="none" />
            <path d={line(s.solid) || ''} fill="none" stroke={LINE_COLORS[i]} strokeWidth={2.1} strokeOpacity={0.85} strokeLinejoin="round" />
            <path d={line(s.lower) || ''} fill="none" stroke={LINE_COLORS[i]} strokeWidth={1.2} strokeOpacity={0.6} strokeDasharray="1.3 2.2" />
          </g>
        ))}
      </g>
      <RoundMarks top={top} bottom={bottom} />
      <Frame top={top} bottom={bottom} />
      {PROB_TICKS.map((t) => (
        <g key={t}>
          <line x1={LEFT - 6.5} x2={LEFT} y1={y(t)} y2={y(t)} stroke="#222" strokeWidth={1.3} />
          <text x={77.5} y={y(t) + 4.9} fontSize={13.9} textAnchor="end" fill="#111">{fmt(t)}</text>
        </g>
      ))}
      <text transform={`translate(33,${top + PROB_H / 2}) rotate(-90)`} fontSize={13.9} textAnchor="middle" fill="#111">Prob</text>
      <text x={(LEFT + RIGHT) / 2} y={top - 13.5} fontSize={20.5} textAnchor="middle" fill="#000">{title}</text>
      <g>
        <rect x={1581} y={top + 5.3} width={490} height={42.5} rx={3} fill="#fff" fillOpacity={0.8} stroke="#d0d0d0" strokeWidth={1} />
        {LINE_LABELS.map((lab, i) => {
          const col = Math.floor(i / 2);
          const cy = top + (i % 2 === 0 ? 16.8 : 35.5);
          const hx = LEGEND_COLS[col];
          return (
            <g key={lab}>
              <line x1={hx} x2={hx + 27} y1={cy} y2={cy} stroke={LINE_COLORS[i]} strokeWidth={2.1} strokeOpacity={0.85} />
              <text x={hx + 36} y={cy + 4.4} fontSize={12.2} fill="#111">{lab}</text>
            </g>
          );
        })}
      </g>
    </g>
  );
};

const CountPanel = () => {
  const y = d3.scaleLinear().domain([-1.92, 38.1]).range([COUNT_BOTTOM, COUNT_TOP]);
  const line = d3.line<Pt>().x((d) => x(d[0])).y((d) => y(d[1]));
  const band = (hi: Pt[], lo: Pt[]) => `${line([...hi, ...lo.slice().reverse()])}Z`;

  const valleHi = expand(valleHigh, valleHighTail, 1);
  const valleLo = expand(valleLowBand, valleLowBandTail, 1);
  const ramirezHi = expand(ramirezHigh, ramirezHighTail, 1);
  const ramirezLo = expand(ramirezLowBand, ramirezLowBandTail, 1);
  const valleP = expand(vallePred, vallePredTail, 1);
  const ramirezP = expand(ramirezPred, ramirezPredTail, 1);
  const valleT = valleTruth.flat() as Pt[];
  const ramirezT = ramirezTruth.flat() as Pt[];

  const legendRows = [
    { color: '#ff0000', dotted: false },
    { color: '#0000ff', dotted: false },
    { color: '#ff0000', dotted: true },
    { color: '#0000ff', dotted: true },
  ];
  const rowY = [1126.7, 1148.5, 1171.4, 1193.4];

  return (
    <g>
      <defs>
        <clipPath id="clip-count"><rect x={LEFT} y={COUNT_TOP} width={RIGHT - LEFT} height={COUNT_BOTTOM - COUNT_TOP} /></clipPath>
      </defs>
      {COUNT_TICKS.map((t) => (
        <line key={t} x1={LEFT} x2={RIGHT} y1={y(t)} y2={y(t)} stroke="#e2e2e2" strokeWidth={1} />
      ))}
      <g clipPath="url(#clip-count)">
        <path d={band(valleHi, valleLo)} fill="#ff0000" fillOpacity={0.14} stroke="#ff0000" strokeOpacity={0.12} strokeWidth={1} />
        <path d={band(ramirezHi, ramirezLo)} fill="#0000ff" fillOpacity={0.12} stroke="#0000ff" strokeOpacity={0.12} strokeWidth={1} />
        <path d={line(valleT) || ''} fill="none" stroke="#ff0000" strokeOpacity={0.72} strokeWidth={2.6} />
        <path d={line(ramirezT) || ''} fill="none" stroke="#0000ff" strokeOpacity={0.72} strokeWidth={2.6} />
        <path d={line(valleP) || ''} fill="none" stroke="#ff0000" strokeOpacity={0.55} strokeWidth={2.6} strokeDasharray="2.6 4.3" />
        <path d={line(ramirezP) || ''} fill="none" stroke="#0000ff" strokeOpacity={0.55} strokeWidth={2.6} strokeDasharray="2.6 4.3" />
      </g>
      <RoundMarks top={COUNT_TOP} bottom={COUNT_BOTTOM} />
      <Frame top={COUNT_TOP} bottom={COUNT_BOTTOM} />
      {COUNT_TICKS.map((t) => (
        <g key={t}>
          <line x1={LEFT - 6.5} x2={LEFT} y1={y(t)} y2={y(t)} stroke="#222" strokeWidth={1.3} />
          <text x={77.5} y={y(t) + 4.9} fontSize={13.9} textAnchor="end" fill="#111">{t}</text>
        </g>
      ))}
      {X_TICKS.map((t) => (
        <text key={t} x={x(t)} y={COUNT_BOTTOM + 25.5} fontSize={13.9} textAnchor="middle" fill="#111">{t}</text>
      ))}
      <text x={(LEFT + RIGHT) / 2} y={COUNT_BOTTOM + 52} fontSize={20.5} textAnchor="middle" fill="#000">Fight time (seconds)</text>
      <text transform={`translate(47,${(COUNT_TOP + COUNT_BOTTOM) / 2}) rotate(-90)`} fontSize={16} textAnchor="middle" fill="#111">Count</text>
      <g>
        <rect x={100} y={1114.3} width={311.7} height={92.4} rx={3} fill="#fff" fillOpacity={0.8} stroke="#d0d0d0" strokeWidth={1} />
        {COUNT_LEGEND.map((lab, i) => (
          <g key={lab}>
            <line x1={105.5} x2={136.5} y1={rowY[i]} y2={rowY[i]} stroke={legendRows[i].color}
              strokeOpacity={legendRows[i].dotted ? 0.55 : 0.72} strokeWidth={2.6}
              strokeDasharray={legendRows[i].dotted ? '2.6 4.3' : undefined} />
            <text x={147.3} y={rowY[i] + 5} fontSize={14.2} fill="#111">{lab}</text>
          </g>
        ))}
      </g>
    </g>
  );
};

export default function App() {
  return (
    <div style={{ position: 'absolute', left: 0, top: 0, width: WIDTH, height: HEIGHT, background: '#fff' }}>
      <svg width={WIDTH} height={HEIGHT} fontFamily={FONT} style={{ display: 'block' }}>
        <rect x={0} y={0} width={WIDTH} height={HEIGHT} fill="#fff" />
        <ProbPanel top={52.2} title="DOMINIC VALLE — Jab Strikes Thrown R9 Under Full Fight (Event 16180)" series={valleSeries} />
        <ProbPanel top={580} title="EDUARDO RAMIREZ — Jab Strikes Thrown R9 Under Full Fight (Event 16180)" series={ramirezSeries} />
        <CountPanel />
      </svg>
    </div>
  );
}
